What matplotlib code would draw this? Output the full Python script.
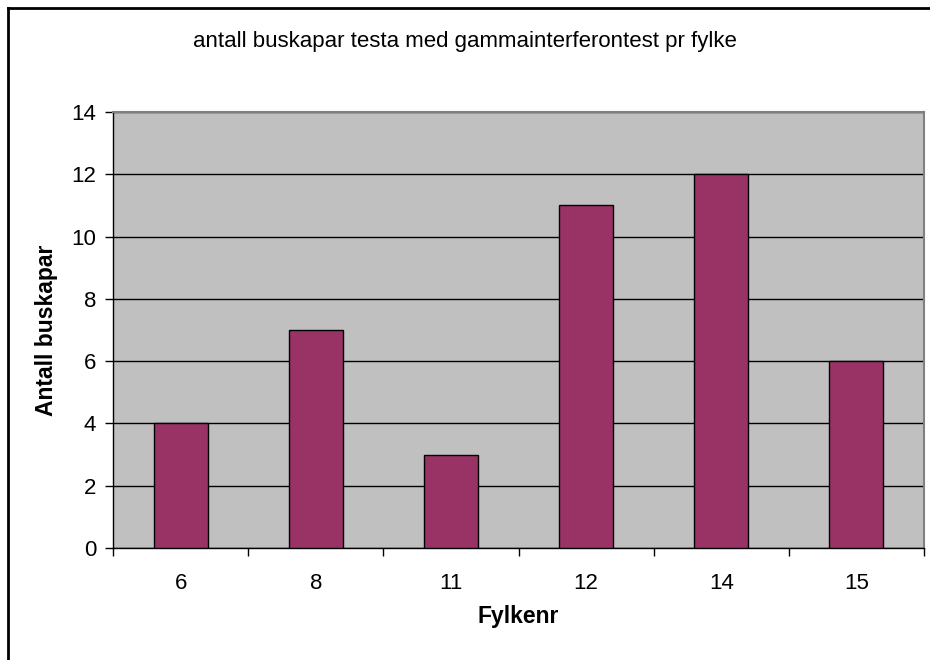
import matplotlib
matplotlib.use("Agg")
import matplotlib.pyplot as plt
from matplotlib.lines import Line2D
import numpy as np

plt.rcParams["font.family"] = ["Liberation Sans", "DejaVu Sans"]

# data
fylker = ["6", "8", "11", "12", "14", "15"]
antall = [4, 7, 3, 11, 12, 6]

W, H = 930, 660
fig = plt.figure(figsize=(W / 100, H / 100), dpi=100)
ax = fig.add_axes([113 / W, 1 - 548 / H, (924 - 113) / W, (548 - 112) / H])
ax.set_facecolor("#C0C0C0")

x = np.arange(len(fylker))
ax.bar(x, antall, width=0.4, color="#993366", edgecolor="black", linewidth=1.0, zorder=3)

ax.set_xlim(-0.5, len(fylker) - 0.5)
ax.set_ylim(0, 14)
ax.set_yticks(np.arange(0, 15, 2))
ax.yaxis.grid(True, color="black", linewidth=1.0, zorder=1)
ax.set_axisbelow(True)

ax.set_xticks(x)
ax.set_xticklabels(fylker)
ax.set_xticks(np.arange(-0.5, len(fylker)), minor=True)
ax.tick_params(axis="x", which="major", length=0, pad=18, labelsize=16)
ax.tick_params(axis="x", which="minor", length=6, width=1, direction="out", color="black")
ax.tick_params(axis="y", length=6, width=1, direction="out", labelsize=16, pad=6)

for s in ["left", "bottom"]:
    ax.spines[s].set_color("black")
    ax.spines[s].set_linewidth(1.0)
for s in ["top", "right"]:
    ax.spines[s].set_color("#808080")
    ax.spines[s].set_linewidth(1.5)

ax.set_xlabel("Fylkenr", fontsize=16.5, fontweight="bold", labelpad=8)
ax.set_ylabel("Antall buskapar", fontsize=16.5, fontweight="bold", labelpad=10)

fig.text(465 / W, 1 - 42 / H, "antall buskapar testa med gammainterferontest pr fylke",
         ha="center", va="center", fontsize=16)

# outer chart frame (only left and top edges visible)
fig.add_artist(Line2D([8 / W, 8 / W], [0, 1 - 8 / H], transform=fig.transFigure,
                      color="black", linewidth=2))
fig.add_artist(Line2D([8 / W, 1], [1 - 8 / H, 1 - 8 / H], transform=fig.transFigure,
                      color="black", linewidth=2))

fig.savefig("out.png", dpi=100)
